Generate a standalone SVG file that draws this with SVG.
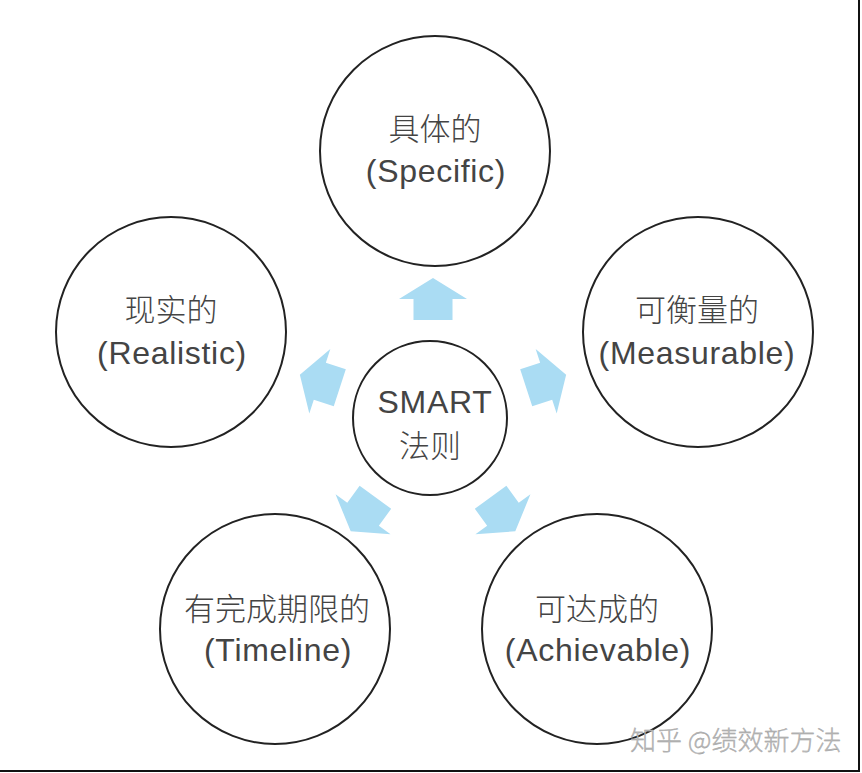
<svg xmlns="http://www.w3.org/2000/svg" width="862" height="773" viewBox="0 0 862 773">
<style>
.node circle{fill:#fff;stroke:#222;stroke-width:2}
.t{font-family:"Liberation Sans","Noto Sans CJK SC",sans-serif;font-size:32px;fill:#444;text-anchor:middle;letter-spacing:0.7px}
.c{font-family:"Noto Sans CJK SC",sans-serif;font-size:31px;font-weight:300;fill:#444;text-anchor:middle}
.arrow{fill:#aadcf3}
.wm{font-family:"Noto Sans CJK SC",sans-serif;font-size:26px;font-weight:300;fill:#b8b8b8;stroke:#999;stroke-width:0.3}
</style>
<defs>
<path id="arr" d="M0,-21 L34,0 L19.5,0 L19.5,21 L-19.5,21 L-19.5,0 L-34,0 Z"/>
</defs>
<rect x="0" y="0" width="862" height="773" fill="#fff"/>
<line x1="859" y1="0" x2="859" y2="771" stroke="#111" stroke-width="2"/>
<line x1="0" y1="771" x2="860" y2="771" stroke="#111" stroke-width="2"/>
<g id="connectors" class="arrow">
<use href="#arr" transform="translate(433,418) rotate(0) translate(0,-119)"/>
<use href="#arr" transform="translate(433,418) rotate(72) translate(0,-119)"/>
<use href="#arr" transform="translate(433,418) rotate(144) translate(0,-119)"/>
<use href="#arr" transform="translate(433,418) rotate(216) translate(0,-119)"/>
<use href="#arr" transform="translate(433,418) rotate(288) translate(0,-119)"/>
</g>
<g id="center" class="node">
<circle cx="430" cy="418" r="77"/>
<text class="t" x="435" y="413">SMART</text>
<text class="c" x="430" y="457">法则</text>
</g>
<g id="specific" class="node">
<circle cx="435" cy="151" r="115"/>
<text class="c" x="435" y="140">具体的</text>
<text class="t" x="436" y="182">(Specific)</text>
</g>
<g id="measurable" class="node">
<circle cx="698" cy="332" r="115"/>
<text class="c" x="697" y="321">可衡量的</text>
<text class="t" x="697" y="364">(Measurable)</text>
</g>
<g id="realistic" class="node">
<circle cx="171" cy="332" r="115"/>
<text class="c" x="171" y="321">现实的</text>
<text class="t" x="172" y="364">(Realistic)</text>
</g>
<g id="timeline" class="node">
<circle cx="275" cy="629" r="115"/>
<text class="c" x="277" y="620">有完成期限的</text>
<text class="t" x="278" y="661">(Timeline)</text>
</g>
<g id="achievable" class="node">
<circle cx="597" cy="629" r="115"/>
<text class="c" x="597" y="620">可达成的</text>
<text class="t" x="598" y="661">(Achievable)</text>
</g>
<text class="wm" x="630" y="750">知乎 @绩效新方法</text>
</svg>
